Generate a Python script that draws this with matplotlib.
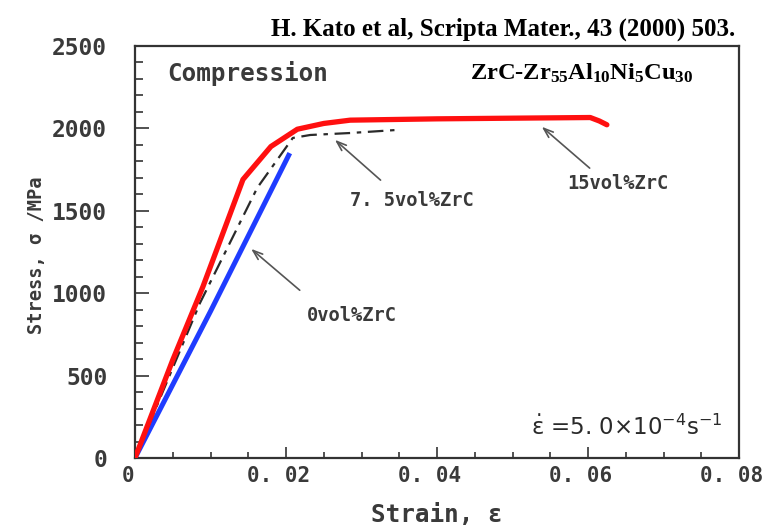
import matplotlib
matplotlib.use("Agg")
import matplotlib.pyplot as plt
from matplotlib.ticker import MultipleLocator, FixedLocator, FixedFormatter
from matplotlib.transforms import ScaledTranslation

# Compressive stress-strain curves (strain, stress in MPa)
strain_0 = [0.0, 0.0100, 0.0205]
stress_0 = [0, 890, 1850]

strain_75 = [0.0, 0.0086, 0.0162, 0.0209, 0.0232, 0.0285, 0.0345]
stress_75 = [0, 940, 1640, 1942, 1960, 1972, 1990]

strain_15 = [0.0, 0.0050, 0.0090, 0.0143, 0.0180, 0.0215, 0.0250, 0.0285,
             0.0400, 0.0500, 0.0603, 0.0615, 0.0625]
stress_15 = [0, 595, 1040, 1690, 1890, 1995, 2030, 2050,
             2058, 2062, 2066, 2045, 2022]

x_ticks = [0.0, 0.02, 0.04, 0.06, 0.08]
x_ticklabels = ["0", "0. 02", "0. 04", "0. 06", "0. 08"]
y_ticks = [0, 500, 1000, 1500, 2000, 2500]
y_ticklabels = ["0", "500", "1000", "1500", "2000", "2500"]

labels = ["0vol%ZrC", "7. 5vol%ZrC", "15vol%ZrC"]
label_pos = [(0.0287, 862), (0.0367, 1560), (0.0640, 1663)]
arrow_head = [(0.0151, 1280), (0.0262, 1942), (0.0536, 2021)]
arrow_tail = [(0.0221, 1007), (0.0328, 1675), (0.0605, 1748)]

plt.rcParams["mathtext.fontset"] = "custom"
plt.rcParams["mathtext.rm"] = "Liberation Serif:bold"
plt.rcParams["mathtext.it"] = "Liberation Serif:bold:italic"
plt.rcParams["mathtext.bf"] = "Liberation Serif:bold"

MONO = "DejaVu Sans Mono"
INK = "#333333"
TXT = "#3a3a3a"

fig = plt.figure(figsize=(7.64, 5.26), dpi=100)
ax = fig.add_axes([135 / 764, 1 - 458 / 526, 604 / 764, 412 / 526])

ax.plot(strain_0, stress_0, color="#1f3cff", lw=3.6, solid_capstyle="butt", zorder=3)
ax.plot(strain_75, stress_75, color="#2a2a2a", lw=1.6, dashes=(7, 3, 2, 3), zorder=4)
ax.plot(strain_15, stress_15, color="#ff1010", lw=3.8, solid_capstyle="round",
        solid_joinstyle="round", zorder=5)

ax.set_xlim(0, 0.08)
ax.set_ylim(0, 2500)

ax.xaxis.set_major_locator(FixedLocator(x_ticks))
ax.xaxis.set_major_formatter(FixedFormatter(x_ticklabels))
ax.xaxis.set_minor_locator(MultipleLocator(0.005))
ax.yaxis.set_major_locator(FixedLocator(y_ticks))
ax.yaxis.set_major_formatter(FixedFormatter(y_ticklabels))
ax.yaxis.set_minor_locator(MultipleLocator(100))

ax.tick_params(axis="both", which="both", direction="in", color=INK, width=1.2,
               top=False, right=False)
ax.tick_params(axis="x", which="major", length=8, pad=6)
ax.tick_params(axis="x", which="minor", length=4)
ax.tick_params(axis="y", which="major", length=10, pad=20)
ax.tick_params(axis="y", which="minor", length=6)

shift_left = ScaledTranslation(-7 / 100, 0, fig.dpi_scale_trans)
for lab in ax.get_xticklabels():
    lab.set_fontfamily(MONO)
    lab.set_fontsize(15)
    lab.set_fontweight("bold")
    lab.set_color(TXT)
    lab.set_transform(lab.get_transform() + shift_left)
for lab in ax.get_yticklabels():
    lab.set_fontfamily(MONO)
    lab.set_fontsize(16.5)
    lab.set_fontweight("bold")
    lab.set_color(TXT)

for sp in ax.spines.values():
    sp.set_color(INK)
    sp.set_linewidth(1.6)

# axis titles
fig.text(437 / 764, 1 - 515 / 526, "Strain, ε", family=MONO, fontsize=17.5,
         fontweight="bold", color=TXT, ha="center", va="center")
fig.text(37 / 764, 1 - 255 / 526, "Stress, σ /MPa", family=MONO, fontsize=13.5,
         fontweight="bold", color=TXT, ha="center", va="center", rotation=90)

# panel annotations
fig.text(167 / 764, 1 - 81 / 526, "Compression", family=MONO, fontsize=17.5,
         fontweight="bold", color=TXT, ha="left", va="baseline")
fig.text(470 / 764, 1 - 80 / 526, r"ZrC-Zr$_{55}$Al$_{10}$Ni$_{5}$Cu$_{30}$",
         family="Liberation Serif", fontweight="bold", fontsize=17.6, color="black",
         ha="left", va="baseline")
fig.text(735 / 764, 1 - 29 / 526, "H. Kato et al, Scripta Mater., 43 (2000) 503.",
         family="Liberation Serif", fontweight="bold", fontsize=18, color="black",
         ha="right", va="center")

ax.text(0.0778, 140, r"$\dot{\mathrm{\varepsilon}}$ =5. 0×10$^{-4}$s$^{-1}$",
        family="DejaVu Sans", math_fontfamily="dejavusans", fontsize=16.5,
        color="#2a2a2a", ha="right", va="baseline")

for text, pos, head, tail in zip(labels, label_pos, arrow_head, arrow_tail):
    ax.annotate("", xy=head, xytext=tail,
                arrowprops=dict(arrowstyle="->,head_length=0.7,head_width=0.25",
                                color="#555555", lw=1.2))
    ax.text(pos[0], pos[1], text, family=MONO, fontsize=13.5, fontweight="bold",
            color=TXT, ha="center", va="center")

fig.savefig("out.png", dpi=100)
